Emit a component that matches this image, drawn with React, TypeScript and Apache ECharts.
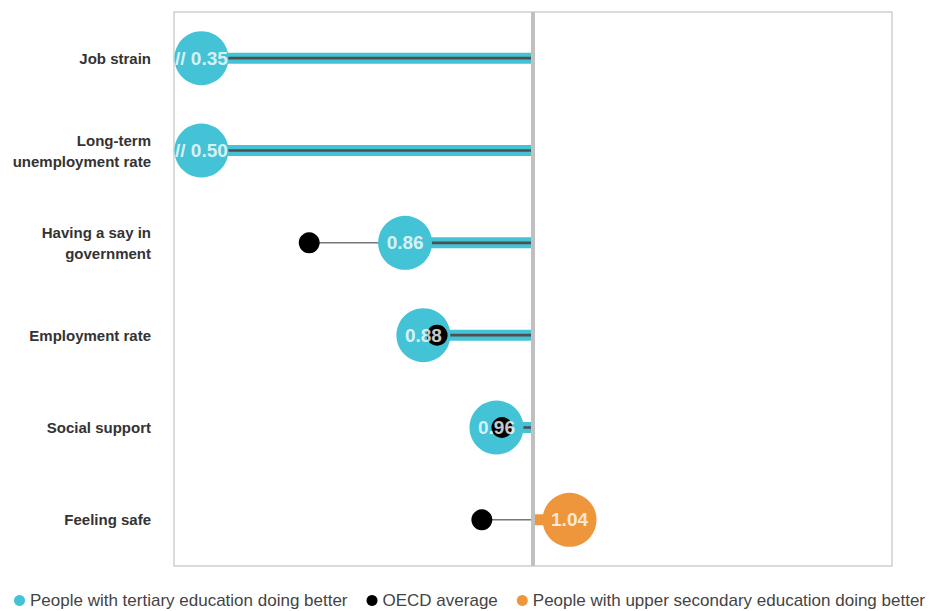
import React, { useEffect, useRef } from "react";
import * as echarts from "echarts";

const categories = [
  "Job strain",
  "Long-term\nunemployment rate",
  "Having a say in\ngovernment",
  "Employment rate",
  "Social support",
  "Feeling safe",
];
const ratioValues = [0.35, 0.5, 0.86, 0.88, 0.96, 1.04];
const oecdValues: (number | null)[] = [null, null, 0.755, 0.895, 0.966, 0.944];
const legendNames = [
  "People with tertiary education doing better",
  "OECD average",
  "People with upper secondary education doing better",
];

const AXIS_MIN = 0.607;
const AXIS_MAX = 1.393;
const CLIP = 0.637; // values below this are drawn at the axis break
const PARITY = 1;

const CYAN = "#43c3d5";
const ORANGE = "#ee963b";
const BLACK = "#000000";

export default function App() {
  const ref = useRef<HTMLDivElement>(null);
  useEffect(() => {
    if (!ref.current) return;
    document.body.style.margin = "0";
    const chart = echarts.init(ref.current, null, { renderer: "svg" });
    const disp = ratioValues.map((v) => Math.max(v, CLIP));
    const labelText = ratioValues.map((v) =>
      v < CLIP ? "// " + v.toFixed(2) : v.toFixed(2)
    );
    const rows = ratioValues.map((v, i) => [disp[i], i, oecdValues[i] ?? -1, v]);

    const option: any = {
      animation: false,
      grid: {
        left: 174,
        right: 38,
        top: 12,
        bottom: 45,
        show: true,
        borderColor: "#cfcfcf",
        borderWidth: 1.5,
        backgroundColor: "transparent",
      },
      xAxis: {
        type: "value",
        min: AXIS_MIN,
        max: AXIS_MAX,
        axisLabel: { show: false },
        axisLine: { show: false },
        axisTick: { show: false },
        splitLine: { show: false },
      },
      yAxis: {
        type: "category",
        inverse: true,
        data: categories,
        axisLine: { show: false },
        axisTick: { show: false },
        axisLabel: {
          margin: 23,
          fontFamily: "Liberation Sans, Arial, sans-serif",
          fontWeight: "bold",
          fontSize: 15,
          lineHeight: 21,
          color: "#333333",
          align: "right",
        },
      },
      legend: {
        top: 592,
        left: 14,
        padding: 0,
        icon: "circle",
        itemWidth: 11,
        itemHeight: 11,
        itemGap: 19,
        data: legendNames,
        textStyle: {
          fontFamily: "Liberation Sans, Arial, sans-serif",
          fontSize: 17,
          color: "#444444",
        },
      },
      series: [
        {
          type: "custom",
          name: "bars",
          z: 1,
          silent: true,
          data: rows,
          encode: { x: 0, y: 1 },
          renderItem: (params: any, api: any) => {
            const v = api.value(0);
            const cat = api.value(1);
            const o = api.value(2);
            const p1 = api.coord([PARITY, cat]);
            const pv = api.coord([v, cat]);
            const hasO = o > 0;
            const oStart = hasO ? o : AXIS_MIN;
            const po = api.coord([oStart, cat]);
            const children: any[] = [];
            const color = v < PARITY ? CYAN : ORANGE;
            const x0 = Math.min(pv[0], p1[0]);
            const w = Math.abs(pv[0] - p1[0]);
            if (hasO) {
              children.push({
                type: "line",
                shape: { x1: po[0], y1: po[1], x2: p1[0], y2: p1[1] },
                style: { stroke: "#777777", lineWidth: 1.5 },
              });
            }
            children.push({
              type: "rect",
              shape: { x: x0, y: pv[1] - 5.5, width: w, height: 11 },
              style: { fill: color },
            });
            if (v < PARITY) {
              const s = Math.max(oStart, v);
              const ps = api.coord([s, cat]);
              children.push({
                type: "line",
                shape: { x1: ps[0], y1: ps[1], x2: p1[0], y2: p1[1] },
                style: { stroke: "#4f4f4f", lineWidth: 2.6 },
              });
            }
            return { type: "group", children };
          },
          markLine: {
            silent: true,
            symbol: "none",
            label: { show: false },
            lineStyle: { color: "#c0c0c0", width: 4, type: "solid" },
            data: [{ xAxis: PARITY }],
          },
        },
        {
          type: "scatter",
          name: legendNames[0],
          z: 3,
          symbolSize: 54,
          itemStyle: { color: CYAN, opacity: 1 },
          data: rows
            .filter((r) => (r[3] as number) < PARITY)
            .map((r) => [r[0], r[1]]),
        },
        {
          type: "scatter",
          name: legendNames[2],
          z: 3,
          symbolSize: 54,
          itemStyle: { color: ORANGE, opacity: 1 },
          data: rows
            .filter((r) => (r[3] as number) > PARITY)
            .map((r) => [r[0], r[1]]),
        },
        {
          type: "scatter",
          name: legendNames[1],
          z: 4,
          symbolSize: 21,
          itemStyle: { color: BLACK, opacity: 1 },
          data: oecdValues
            .map((o, i) => (o == null ? null : [o, i]))
            .filter((d) => d != null),
        },
        {
          type: "scatter",
          name: "labels",
          z: 5,
          silent: true,
          symbolSize: 1,
          itemStyle: { color: "transparent" },
          data: rows.map((r, i) => ({ value: [r[0], r[1]], label: { formatter: labelText[i] } })),
          label: {
            show: true,
            position: "inside",
            color: "#ffffff",
            fontFamily: "Liberation Sans Narrow, Arial Narrow, sans-serif",
            fontWeight: "bold",
            fontSize: 19,
          },
        },
      ],
    };
    chart.setOption(option);
    return () => chart.dispose();
  }, []);
  return <div ref={ref} style={{ width: 930, height: 611 }} />;
}
